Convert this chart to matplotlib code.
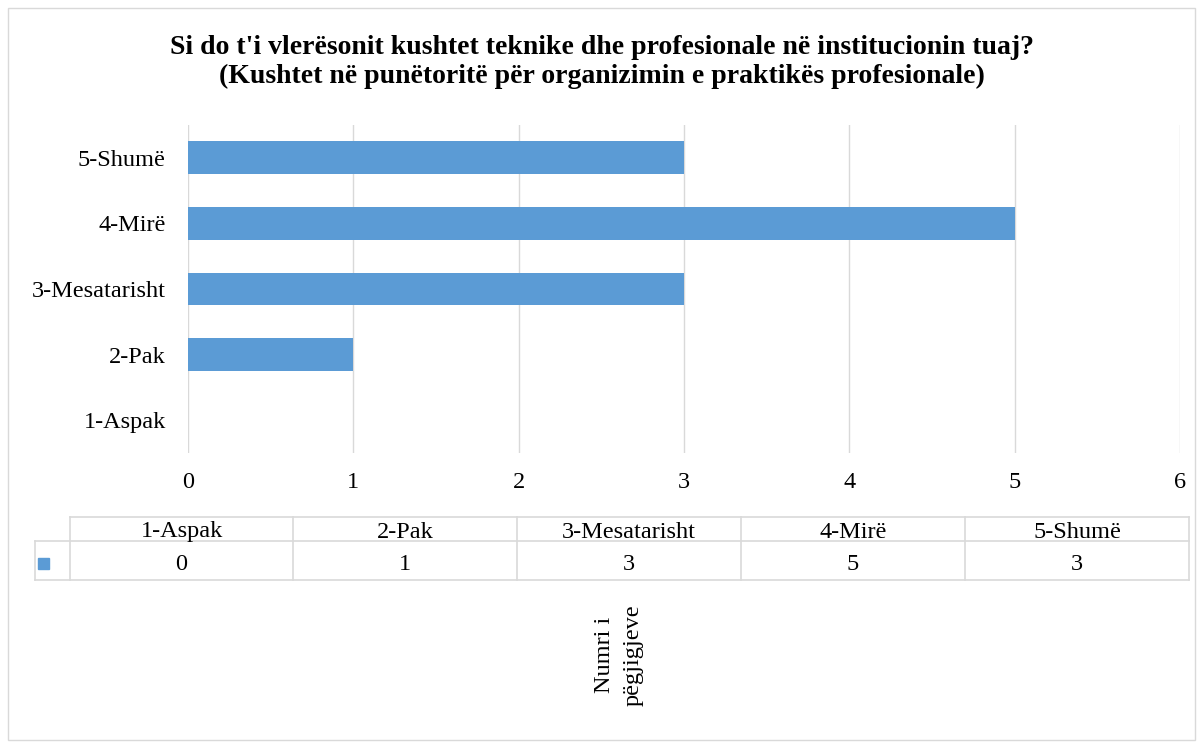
import matplotlib
matplotlib.use('Agg')
import matplotlib.pyplot as plt
from matplotlib.lines import Line2D
from matplotlib.patches import Rectangle

categories = ['1-Aspak', '2-Pak', '3-Mesatarisht', '4-Mirë', '5-Shumë']
values = [0, 1, 3, 5, 3]
xticks = [0, 1, 2, 3, 4, 5, 6]
title = "Si do t'i vlerësonit kushtet teknike dhe profesionale në institucionin tuaj?\n(Kushtet në punëtoritë për organizimin e praktikës profesionale)"
axis_label = 'Numri i\npëgjigjeve'

bar_color = '#5B9BD5'
grid_color = '#D9D9D9'
plt.rcParams['font.family'] = ['Liberation Serif', 'DejaVu Serif']
fs = 17.5

W, H = 1203, 745
fig = plt.figure(figsize=(W / 100, H / 100), dpi=100)

def fx(px):
    return px / W

def fy(py):
    return 1 - py / H

# outer border
fig.patches.append(Rectangle((fx(8), fy(740)), fx(1195) - fx(8), fy(8) - fy(740),
                             transform=fig.transFigure, fill=False,
                             edgecolor='#D9D9D9', linewidth=1))

ax = fig.add_axes([fx(188), fy(453), fx(1180) - fx(188), fy(125) - fy(453)])
y = list(range(len(categories)))
ax.barh(y, values, height=0.5, color=bar_color, zorder=3)
ax.set_yticks(y)
ax.set_yticklabels(categories, fontsize=fs)
ax.set_ylim(-0.5, len(categories) - 0.5)
ax.set_xlim(xticks[0], xticks[-1])
ax.set_xticks(xticks)
ax.set_xticklabels([str(t) for t in xticks], fontsize=fs)
ax.tick_params(axis='both', length=0)
ax.tick_params(axis='x', pad=14)
ax.tick_params(axis='y', pad=16)
ax.grid(axis='x', color=grid_color, linewidth=1, zorder=0)
for s in ax.spines.values():
    s.set_visible(False)

fig.text(0.5, fy(62), title, ha='center', va='center', fontsize=20,
         fontweight='bold', linespacing=1.2)

# data table below the axis
col_edges = [70, 293, 517, 741, 965, 1189]
top, mid, bot = 517, 541, 580
lc = '#D9D9D9'
def hline(x0, x1, yy):
    fig.add_artist(Line2D([fx(x0), fx(x1)], [fy(yy), fy(yy)], color=lc, lw=1.2,
                          transform=fig.transFigure))
def vline(xx, y0, y1):
    fig.add_artist(Line2D([fx(xx), fx(xx)], [fy(y0), fy(y1)], color=lc, lw=1.2,
                          transform=fig.transFigure))
hline(70, 1189, top)
hline(35, 1189, mid)
hline(35, 1189, bot)
vline(35, mid, bot)
for e in col_edges:
    vline(e, top, bot)
fig.patches.append(Rectangle((fx(38), fy(569)), fx(11), fy(558) - fy(569),
                             transform=fig.transFigure, color=bar_color))
for i, (c, v) in enumerate(zip(categories, values)):
    cx = (col_edges[i] + col_edges[i + 1]) / 2
    fig.text(fx(cx), fy(532), c, ha='center', va='center', fontsize=fs)
    fig.text(fx(cx), fy(564), str(v), ha='center', va='center', fontsize=fs)

fig.text(fx(619), fy(655), axis_label, rotation=90, ha='center', va='center',
         multialignment='center', fontsize=fs, linespacing=1.45)

fig.savefig('out.png', dpi=100, facecolor='white')
